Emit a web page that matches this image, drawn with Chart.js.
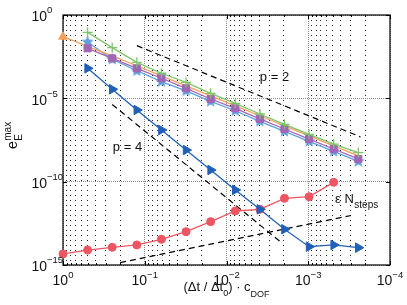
<!DOCTYPE html>
<html><head><meta charset="utf-8">
<script src="https://cdn.jsdelivr.net/npm/chart.js@4"></script>
<style>html,body{margin:0;padding:0;background:#fff}#wrap{width:407px;height:305px;position:relative}</style>
</head><body><div id="wrap"><canvas id="c" width="407" height="305"></canvas></div>
<script>
// ---- data ----
const stepSizes = [1, 0.5, 0.25, 0.125, 0.0625, 0.03125, 0.015625, 0.0078125, 0.00390625, 0.001953125, 0.0009765625, 0.00048828125, 0.000244140625];
const errOrange = [5.0e-2, 1.3e-2, 3.5e-3, 9.0e-4, 2.2e-4, 5.6e-5, 1.4e-5, 3.5e-6, 9.0e-7, 2.2e-7, 5.6e-8, 1.4e-8, 3.5e-9];
const errGreen  = [9.1e-2, 1.1e-2, 1.45e-3, 3.2e-4, 9.1e-5, 2.0e-5, 5.0e-6, 1.15e-6, 2.75e-7, 6.9e-8, 1.8e-8, 5.6e-9];
const errPurple = [1.0e-2, 2.5e-3, 6.3e-4, 1.6e-4, 4.0e-5, 9.1e-6, 2.5e-6, 5.8e-7, 1.45e-7, 3.6e-8, 9.1e-9, 2.3e-9];
const errStar   = [2.4e-2, 2.2e-3, 4.5e-4, 1.0e-4, 2.8e-5, 6.6e-6, 1.8e-6, 4.2e-7, 1.05e-7, 2.6e-8, 6.6e-9, 1.66e-9];
const errBlue   = [6.3e-4, 3.5e-5, 2.0e-6, 1.26e-7, 7.9e-9, 5.0e-10, 3.2e-11, 2.2e-12, 1.4e-13, 1.26e-14, 1.6e-14, 1.1e-14];
const errRed    = [4.6e-15, 7.9e-15, 1.15e-14, 1.6e-14, 3.5e-14, 1.0e-13, 4.0e-13, 1.74e-12, 2.2e-12, 1.0e-11, 1.26e-11, 9.1e-11];
const refP2X = [0.125, 2.3e-4];   const refP2Y = [1.45e-2, 4.9e-8];
const refP4X = [0.25, 2.1e-3];    const refP4Y = [4.3e-6, 2.1e-14];
const refEpsX = [0.2, 3.0e-4];    const refEpsY = [1.4e-15, 9.3e-13];
const xLabelExps = [0, -1, -2, -3, -4];
const yLabelExps = [0, -5, -10, -15];
const xTitleParts = ['(\u0394t / \u0394t', '0', ') \u00b7 c', 'DOF'];
const yTitleParts = ['e', 'max', 'E'];
const annotations = ['p = 2', 'p = 4', '\u03b5 N', 'steps'];

// ---- helpers ----
const FONT = "'Liberation Sans', Arial, Helvetica, sans-serif";
const f = s => s + 'px ' + FONT;
function pts(xs, ys){ return ys.map((y, i) => ({x: xs[i], y: y})); }
function decadeExp(v){ const e = Math.round(Math.log10(v)); return Math.abs(v / Math.pow(10, e) - 1) < 1e-6 ? e : null; }
function logTicks(minExp, maxExp, minor){
  const t = [];
  for (let e = minExp; e < maxExp; e++) {
    t.push({value: Math.pow(10, e)});
    if (minor) for (let s = 2; s <= 9; s++) t.push({value: s * Math.pow(10, e)});
  }
  t.push({value: Math.pow(10, maxExp)});
  return t;
}
function isLabelTick(v, list){ const e = decadeExp(v); return e !== null && list.includes(e); }

function makeStar(color, r){
  const c = document.createElement('canvas');
  const s = Math.ceil(r * 2 + 2); c.width = s; c.height = s;
  const g = c.getContext('2d');
  g.beginPath();
  for (let i = 0; i < 10; i++) {
    const rr = i % 2 === 0 ? r : r * 0.45;
    const a = -Math.PI / 2 + i * Math.PI / 5;
    const px = s / 2 + rr * Math.cos(a), py = s / 2 + rr * Math.sin(a);
    i === 0 ? g.moveTo(px, py) : g.lineTo(px, py);
  }
  g.closePath(); g.fillStyle = color; g.fill();
  return c;
}

const C_ORANGE = '#F5A05A', C_GREEN = '#7DC46A', C_PURPLE = '#A066B4', C_STAR = '#5CA0DE', C_BLUE = '#2060B8', C_RED = '#EE5562';
const starImg = makeStar(C_STAR, 6.5);

function series(xs, ys, color, extra){
  return Object.assign({data: pts(xs, ys), showLine: true, borderColor: color, backgroundColor: color,
    borderWidth: 1.3, pointBorderWidth: 1, clip: false}, extra);
}
function refLine(xs, ys){
  return {data: pts(xs, ys), showLine: true, borderColor: '#000', borderWidth: 1.2, borderDash: [6, 4],
    pointRadius: 0, clip: false};
}

const datasets = [
  series(stepSizes.slice(1), errGreen, C_GREEN, {pointStyle: 'cross', pointRadius: 5, pointBorderWidth: 1.3}),
  series(stepSizes.slice(1), errPurple, C_PURPLE, {pointStyle: 'rect', pointRadius: 5}),
  series(stepSizes, errOrange, C_ORANGE, {pointStyle: 'triangle', pointRadius: ctx => ctx.dataIndex === 0 ? 5 : 0}),
  series(stepSizes.slice(1), errStar, C_STAR, {pointStyle: starImg}),
  series(stepSizes.slice(1), errBlue, C_BLUE, {pointStyle: 'triangle', rotation: 90, pointRadius: 5.5}),
  series(stepSizes, errRed, C_RED, {pointStyle: 'circle', pointRadius: 4}),
  refLine(refP2X, refP2Y),
  refLine(refP4X, refP4Y),
  refLine(refEpsX, refEpsY)
];

const isMajorCtx = list => ctx => ctx.tick && isLabelTick(ctx.tick.value, list);

const drawPlugin = {
  id: 'decor',
  beforeDatasetsDraw(chart){
    const {ctx, chartArea: a, scales} = chart;
    ctx.save(); ctx.strokeStyle = '#000'; ctx.lineWidth = 1;
    ctx.beginPath();
    scales.x.ticks.forEach(t => {
      const px = Math.round(scales.x.getPixelForValue(t.value)) + 0.5;
      const len = decadeExp(t.value) !== null ? 4 : 2;
      ctx.moveTo(px, a.bottom); ctx.lineTo(px, a.bottom - len);
      ctx.moveTo(px, a.top); ctx.lineTo(px, a.top + len);
    });
    yLabelExps.forEach(e => {
      const py = Math.round(scales.y.getPixelForValue(Math.pow(10, e))) + 0.5;
      ctx.moveTo(a.left, py); ctx.lineTo(a.left + 4, py);
      ctx.moveTo(a.right, py); ctx.lineTo(a.right - 4, py);
    });
    ctx.stroke();
    ctx.lineWidth = 1.2;
    ctx.strokeRect(a.left, a.top, a.right - a.left, a.bottom - a.top);
    ctx.restore();
  },
  afterDraw(chart){
    const {ctx, chartArea: a, scales} = chart;
    ctx.save();
    ctx.fillStyle = '#111'; ctx.textBaseline = 'alphabetic';
    yLabelExps.forEach(e => {
      const py = scales.y.getPixelForValue(Math.pow(10, e));
      ctx.font = f(14); ctx.textAlign = 'right'; ctx.fillText('10', 47, py + 6.3);
      ctx.font = f(9.5); ctx.textAlign = 'left'; ctx.fillText(e < 0 ? '\u2212' + (-e) : String(e), 47, py - 1.8);
    });
    xLabelExps.forEach(e => {
      const px = scales.x.getPixelForValue(Math.pow(10, e));
      const expStr = e < 0 ? '\u2212' + (-e) : String(e);
      ctx.font = f(14); const bw = ctx.measureText('10').width;
      ctx.font = f(9.5); const ewid = ctx.measureText(expStr).width;
      const x0 = px - (bw + ewid) / 2;
      ctx.textAlign = 'left';
      ctx.font = f(14); ctx.fillText('10', x0, a.bottom + 20);
      ctx.font = f(9.5); ctx.fillText(expStr, x0 + bw, a.bottom + 13);
    });
    // x title
    const parts = [[xTitleParts[0], 13, 0], [xTitleParts[1], 9, 4.5], [xTitleParts[2], 13, 0], [xTitleParts[3], 9, 6]];
    let w = 0; parts.forEach(p => { ctx.font = f(p[1]); w += ctx.measureText(p[0]).width; });
    let x = (a.left + a.right) / 2 - w / 2; const by = 291;
    ctx.textAlign = 'left';
    parts.forEach(p => { ctx.font = f(p[1]); ctx.fillText(p[0], x, by + p[2]); x += ctx.measureText(p[0]).width; });
    // y title (rotated)
    ctx.save(); ctx.translate(17, 149); ctx.rotate(-Math.PI / 2);
    ctx.font = f(14); ctx.fillText(yTitleParts[0], 0, 0);
    const ew = ctx.measureText(yTitleParts[0]).width;
    ctx.font = f(10); ctx.fillText(yTitleParts[1], ew + 0.5, -6.5); ctx.fillText(yTitleParts[2], ew + 0.5, 4.5);
    ctx.restore();
    // annotations
    ctx.font = f(13); ctx.textAlign = 'center';
    ctx.fillText(annotations[0], 274.5, 81);
    ctx.fillText(annotations[1], 127.5, 151);
    ctx.textAlign = 'left';
    ctx.fillText(annotations[2], 335, 203);
    const ew2 = ctx.measureText(annotations[2]).width;
    ctx.font = f(10); ctx.fillText(annotations[3], 335 + ew2 + 0.5, 207.5);
    ctx.restore();
  }
};

new Chart(document.getElementById('c'), {
  type: 'scatter',
  data: {datasets},
  options: {
    responsive: false, animation: false, events: [],
    layout: {padding: {top: 15, right: 17, left: 0, bottom: 0}},
    plugins: {legend: {display: false}, tooltip: {enabled: false}},
    scales: {
      x: {
        type: 'logarithmic', reverse: true, min: 1e-4, max: 1,
        afterBuildTicks: s => { s.ticks = logTicks(-4, 0, true); },
        afterFit: s => { s.height = 40; },
        ticks: {display: false, autoSkip: false},
        grid: {drawTicks: false, lineWidth: 1,
          color: ctx => isMajorCtx(xLabelExps)(ctx) ? '#8a8a8a' : '#222'},
        border: {display: false, dash: ctx => isMajorCtx(xLabelExps)(ctx) ? [1, 1] : [1, 4]}
      },
      y: {
        type: 'logarithmic', min: 1e-15, max: 1,
        afterBuildTicks: s => { s.ticks = logTicks(-15, 0, false).filter(t => isLabelTick(t.value, yLabelExps)); },
        afterFit: s => { s.width = 63; },
        ticks: {display: false, autoSkip: false},
        grid: {drawTicks: false, lineWidth: 1, color: '#8a8a8a'},
        border: {display: false, dash: [1, 1]}
      }
    }
  },
  plugins: [drawPlugin]
});
</script></body></html>
